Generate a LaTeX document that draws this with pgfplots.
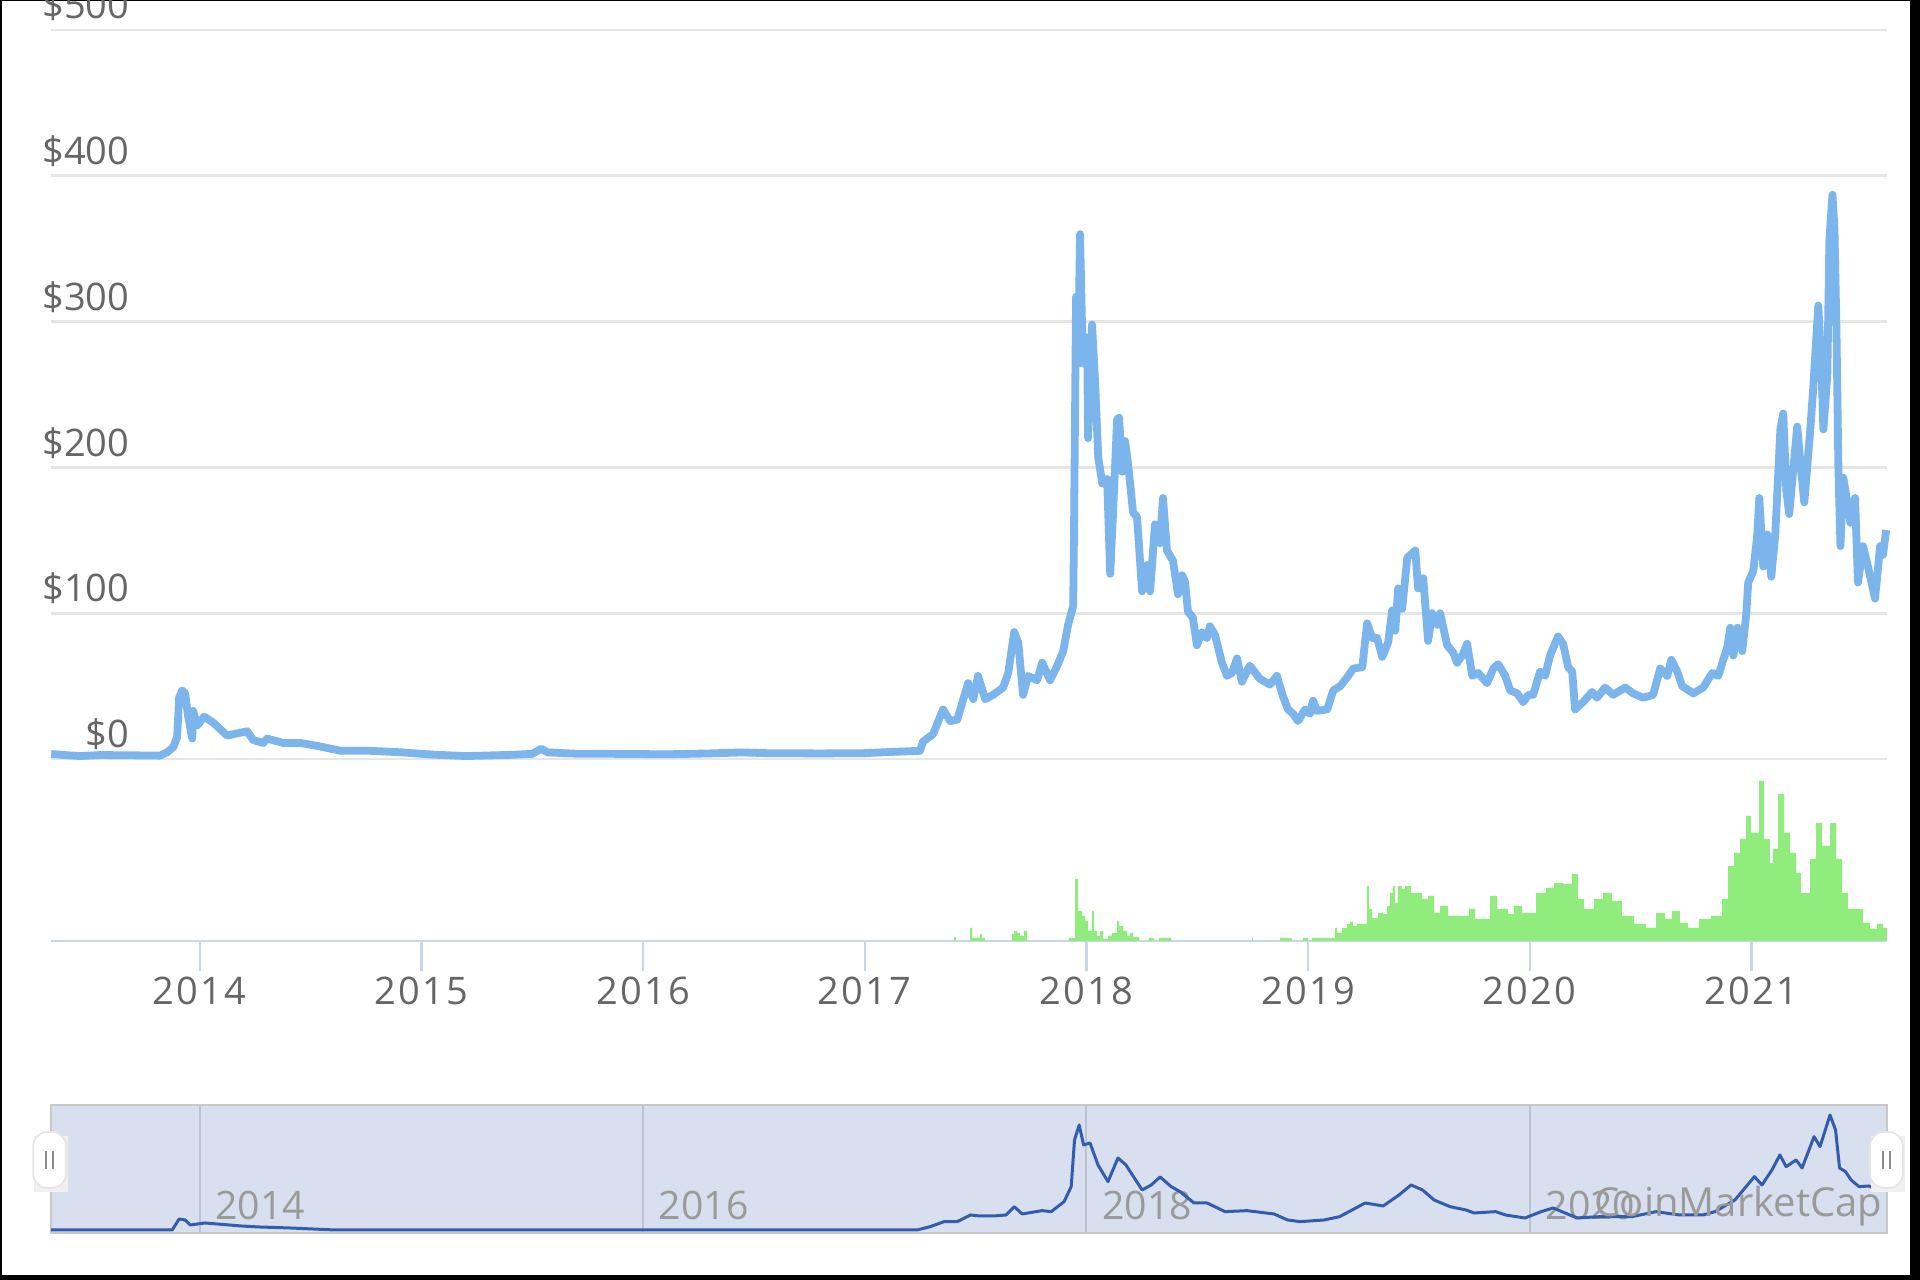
\documentclass[border=0pt]{standalone}
\usepackage{pgfplots}
\pgfplotsset{compat=1.18}
\usepackage{pgfplotstable}
\usepackage{fontspec}
\setmainfont{Open Sans}

\definecolor{pricecol}{HTML}{7CB5EC}
\definecolor{volcol}{HTML}{90ED7D}
\definecolor{gridcol}{HTML}{E6E6E6}
\definecolor{axiscol}{HTML}{CCD6EB}
\definecolor{labelcol}{HTML}{666666}
\definecolor{navline}{HTML}{335CAD}
\definecolor{navfill}{HTML}{D8DFEE}
\definecolor{navedge}{HTML}{C8C8C8}
\definecolor{navgrid}{HTML}{BCC2CE}
\definecolor{navlab}{HTML}{9A9A9A}

% daily close, USD
\pgfplotstableread{
year usd
2013.330 3.4
2013.400 2.6
2013.461 2.0
2013.551 2.7
2013.700 2.5
2013.821 2.3
2013.853 4.6
2013.880 8
2013.898 15
2013.907 42
2013.920 47
2013.934 45
2013.948 29
2013.966 14
2013.970 33
2013.988 23
2014.020 29
2014.060 25
2014.124 16
2014.151 17
2014.214 19
2014.241 13
2014.286 11
2014.304 14
2014.376 11
2014.453 11
2014.529 9
2014.633 5.7
2014.755 5.7
2014.904 4.6
2015.050 3.0
2015.200 2.0
2015.400 2.8
2015.500 3.5
2015.540 7
2015.570 4.5
2015.700 3.6
2015.900 3.5
2016.100 3.2
2016.300 3.8
2016.450 4.5
2016.550 4.0
2016.800 3.8
2017.000 4.0
2017.069 4.5
2017.249 5.6
2017.263 12
2017.308 17
2017.353 34
2017.385 26
2017.417 27
2017.466 52
2017.489 41
2017.511 57
2017.543 41
2017.579 44
2017.624 49
2017.647 59
2017.674 87
2017.692 80
2017.714 44
2017.737 57
2017.777 54
2017.800 66
2017.836 54
2017.868 64
2017.895 74
2017.917 92
2017.940 105
2017.944 161
2017.953 317
2017.962 271
2017.971 360
2017.980 296
2017.989 271
2018.003 289
2018.007 220
2018.025 298
2018.039 258
2018.053 207
2018.071 189
2018.093 192
2018.107 127
2018.120 169
2018.138 233
2018.147 234
2018.161 197
2018.174 218
2018.188 202
2018.210 169
2018.228 166
2018.251 115
2018.273 133
2018.287 115
2018.309 161
2018.332 148
2018.345 179
2018.363 143
2018.390 136
2018.413 113
2018.431 126
2018.444 122
2018.458 101
2018.480 97
2018.498 78
2018.521 87
2018.543 83
2018.557 91
2018.580 85
2018.611 66
2018.634 57
2018.656 59
2018.679 69
2018.701 53
2018.737 64
2018.782 55
2018.828 51
2018.859 57
2018.886 43
2018.909 34
2018.932 31
2018.954 26
2018.986 34
2019.009 31
2019.022 40
2019.041 33
2019.086 34
2019.113 47
2019.145 50
2019.176 56
2019.203 62
2019.244 63
2019.266 93
2019.289 83
2019.311 83
2019.334 70
2019.361 80
2019.379 102
2019.393 88
2019.406 117
2019.424 103
2019.447 138
2019.469 141
2019.483 143
2019.496 117
2019.519 124
2019.541 81
2019.559 100
2019.582 92
2019.595 100
2019.627 78
2019.654 73
2019.672 66
2019.695 71
2019.717 79
2019.740 57
2019.767 59
2019.807 52
2019.835 62
2019.857 65
2019.889 57
2019.911 47
2019.943 45
2019.970 39
2019.993 44
2020.015 44
2020.046 60
2020.069 57
2020.091 71
2020.127 84
2020.150 79
2020.173 63
2020.191 60
2020.204 34
2020.240 39
2020.281 46
2020.303 42
2020.339 49
2020.376 44
2020.430 49
2020.466 45
2020.511 42
2020.556 44
2020.588 62
2020.620 57
2020.638 68
2020.665 60
2020.687 50
2020.737 45
2020.782 49
2020.823 59
2020.850 57
2020.891 77
2020.904 90
2020.918 71
2020.936 90
2020.958 74
2020.976 99
2020.985 121
2021.008 129
2021.026 154
2021.035 179
2021.053 132
2021.071 154
2021.089 125
2021.107 154
2021.130 226
2021.143 237
2021.157 184
2021.170 168
2021.188 198
2021.206 228
2021.220 204
2021.238 176
2021.265 226
2021.279 256
2021.301 311
2021.315 270
2021.324 226
2021.342 264
2021.351 355
2021.365 387
2021.374 364
2021.383 295
2021.392 198
2021.401 146
2021.414 193
2021.432 176
2021.446 162
2021.467 179
2021.480 121
2021.503 146
2021.525 132
2021.557 110
2021.580 146
2021.593 140
2021.607 157
}\price

% traded volume, relative units
\pgfplotstableread{
year vol
2017.340 0
2017.403 4
2017.412 0
2017.475 13
2017.484 3
2017.520 7
2017.529 3
2017.542 0
2017.664 7
2017.673 10
2017.687 8
2017.700 5
2017.718 10
2017.732 0
2017.922 3
2017.949 62
2017.962 30
2017.980 25
2017.994 20
2018.007 10
2018.025 30
2018.034 10
2018.048 5
2018.061 10
2018.075 2
2018.097 5
2018.115 8
2018.138 20
2018.147 15
2018.165 10
2018.183 5
2018.196 8
2018.210 4
2018.237 0
2018.282 3
2018.305 0
2018.327 3
2018.381 0
2018.747 3
2018.751 0
2018.873 3
2018.927 0
2018.977 3
2018.999 0
2019.017 3
2019.121 13
2019.130 8
2019.153 13
2019.175 17
2019.189 19
2019.202 15
2019.220 17
2019.265 55
2019.274 32
2019.288 23
2019.315 28
2019.337 27
2019.356 35
2019.369 48
2019.383 55
2019.392 38
2019.405 55
2019.423 52
2019.437 55
2019.464 48
2019.491 48
2019.514 42
2019.541 45
2019.568 28
2019.595 35
2019.631 25
2019.699 25
2019.726 32
2019.753 22
2019.821 45
2019.852 32
2019.902 27
2019.929 35
2019.965 28
2020.028 48
2020.073 53
2020.109 58
2020.150 57
2020.190 67
2020.217 42
2020.244 32
2020.289 42
2020.330 48
2020.370 40
2020.415 25
2020.470 17
2020.524 13
2020.569 28
2020.610 22
2020.641 30
2020.677 18
2020.713 13
2020.763 22
2020.817 25
2020.867 42
2020.894 75
2020.921 88
2020.948 102
2020.975 125
2020.998 108
2021.034 160
2021.056 102
2021.083 78
2021.097 92
2021.120 147
2021.147 108
2021.174 88
2021.201 68
2021.223 48
2021.264 82
2021.291 118
2021.318 95
2021.354 118
2021.381 82
2021.408 48
2021.435 32
2021.476 32
2021.503 18
2021.534 12
2021.566 17
2021.593 13
2021.611 13
}\volume

% navigator series (smoothed)
\pgfplotstableread{
year nav
2013.330 9
2013.876 9
2013.907 42
2013.934 39
2013.957 24
2014.024 30
2014.187 21
2014.268 18
2014.408 15
2014.611 9
2015.806 9
2017.236 9
2017.295 19
2017.358 34
2017.417 34
2017.477 54
2017.518 51
2017.579 51
2017.637 54
2017.674 79
2017.710 57
2017.800 67
2017.841 64
2017.899 94
2017.931 139
2017.946 279
2017.967 324
2017.987 264
2018.016 270
2018.052 204
2018.097 154
2018.142 225
2018.178 204
2018.212 169
2018.251 129
2018.292 144
2018.332 168
2018.382 139
2018.422 124
2018.485 90
2018.544 90
2018.625 64
2018.724 67
2018.846 57
2018.907 39
2018.964 34
2019.072 39
2019.142 49
2019.257 90
2019.338 81
2019.410 114
2019.464 144
2019.516 129
2019.568 99
2019.640 79
2019.712 69
2019.748 60
2019.846 64
2019.890 54
2019.978 45
2020.051 64
2020.105 75
2020.213 45
2020.317 49
2020.461 49
2020.569 64
2020.673 54
2020.781 54
2020.835 64
2020.925 99
2021.013 169
2021.047 144
2021.092 189
2021.128 234
2021.156 199
2021.201 219
2021.228 195
2021.282 289
2021.309 259
2021.354 354
2021.379 309
2021.397 195
2021.424 184
2021.449 159
2021.485 139
2021.530 141
2021.566 129
2021.607 135
}\navdata

\pgfplotsset{
  base/.style={scale only axis, width=459pt, anchor=south west,
    xmin=2013.329, xmax=2021.611},
  lab/.style={text=labelcol, font=\fontsize{9.5}{11}\selectfont},
}

\begin{document}
\begin{tikzpicture}
\useasboundingbox (0,0) rectangle (480pt,320pt);
\fill[black] (0,0) rectangle (480pt,320pt);
\fill[white] (0.5pt,1.3pt) rectangle (477.4pt,319.75pt);
\begin{scope}
\clip (0.5pt,1.3pt) rectangle (477.4pt,319.75pt);

% price
\begin{axis}[base, at={(12.75pt,130.25pt)}, height=182.25pt,
  ymin=0, ymax=500, ytick={0,100,200,300,400,500},
  yticklabels={\$0,\$100,\$200,\$300,\$400,\$500},
  xtick=\empty, ymajorgrids, grid style={gridcol, line width=0.7pt},
  axis line style={draw=none}, major tick length=0pt,
  yticklabel style={lab, anchor=base east, inner sep=0pt, xshift=19.8pt, yshift=2.8pt},
  clip=false]
\addplot[pricecol, line width=1.95pt, line join=round] table[x=year, y=usd] {\price};
\end{axis}

% volume
\begin{axis}[base, at={(12.75pt,84.75pt)}, height=42.75pt,
  ymin=0, ymax=171, axis x line*=bottom, axis y line=none,
  axis line style={draw=axiscol, line width=0.6pt, -},
  xtick={2014,2015,2016,2017,2018,2019,2020,2021},
  xticklabels={2014,2015,2016,2017,2018,2019,2020,2021},
  tick align=outside, major tick length=7.5pt,
  tick style={draw=axiscol, line width=0.6pt},
  xticklabel style={lab, anchor=base, inner sep=0pt,
    font=\fontsize{9.5}{11}\selectfont\addfontfeature{LetterSpace=6}},
  xticklabel shift=8.5pt]
\addplot[const plot, fill=volcol, draw=none] table[x=year, y=vol] {\volume} \closedcycle;
\end{axis}

% navigator
\begin{axis}[base, at={(12.75pt,11.75pt)}, height=32pt,
  ymin=0, ymax=384, ytick=\empty,
  axis background/.style={fill=navfill},
  axis line style={draw=navedge, line width=0.6pt},
  xtick={2014,2016,2018,2020}, xticklabels={2014,2016,2018,2020},
  major tick length=0pt, xmajorgrids, grid style={navgrid, line width=0.5pt},
  xticklabel style={text=navlab, font=\fontsize{9.8}{11}\selectfont,
    anchor=base west, inner sep=0pt, xshift=3.75pt, yshift=3.25pt}]
\addplot[navline, line width=0.75pt, line join=round] table[x=year, y=nav] {\navdata};
\node[anchor=base east, inner sep=0pt, text=navlab, font=\fontsize{10}{12}\selectfont]
  at ([xshift=-1pt, yshift=4pt]rel axis cs:1,0) {CoinMarketCap};
\end{axis}

% navigator handles
\foreach \hx in {12.4pt, 471.6pt} {
  \fill[black!6] ([xshift=-3.9pt, yshift=-0.6pt]\hx,22.6pt) rectangle ++(8.6pt,14pt);
  \draw[fill=white, draw=black!10, line width=0.4pt, rounded corners=3.5pt]
    ([xshift=-4.1pt]\hx,23pt) rectangle ++(8.2pt,14pt);
  \draw[black!45, line width=0.4pt] ([xshift=-0.9pt]\hx,27.8pt) -- ++(0,4.4pt);
  \draw[black!45, line width=0.4pt] ([xshift=0.9pt]\hx,27.8pt) -- ++(0,4.4pt);
}
\end{scope}
\end{tikzpicture}
\end{document}
